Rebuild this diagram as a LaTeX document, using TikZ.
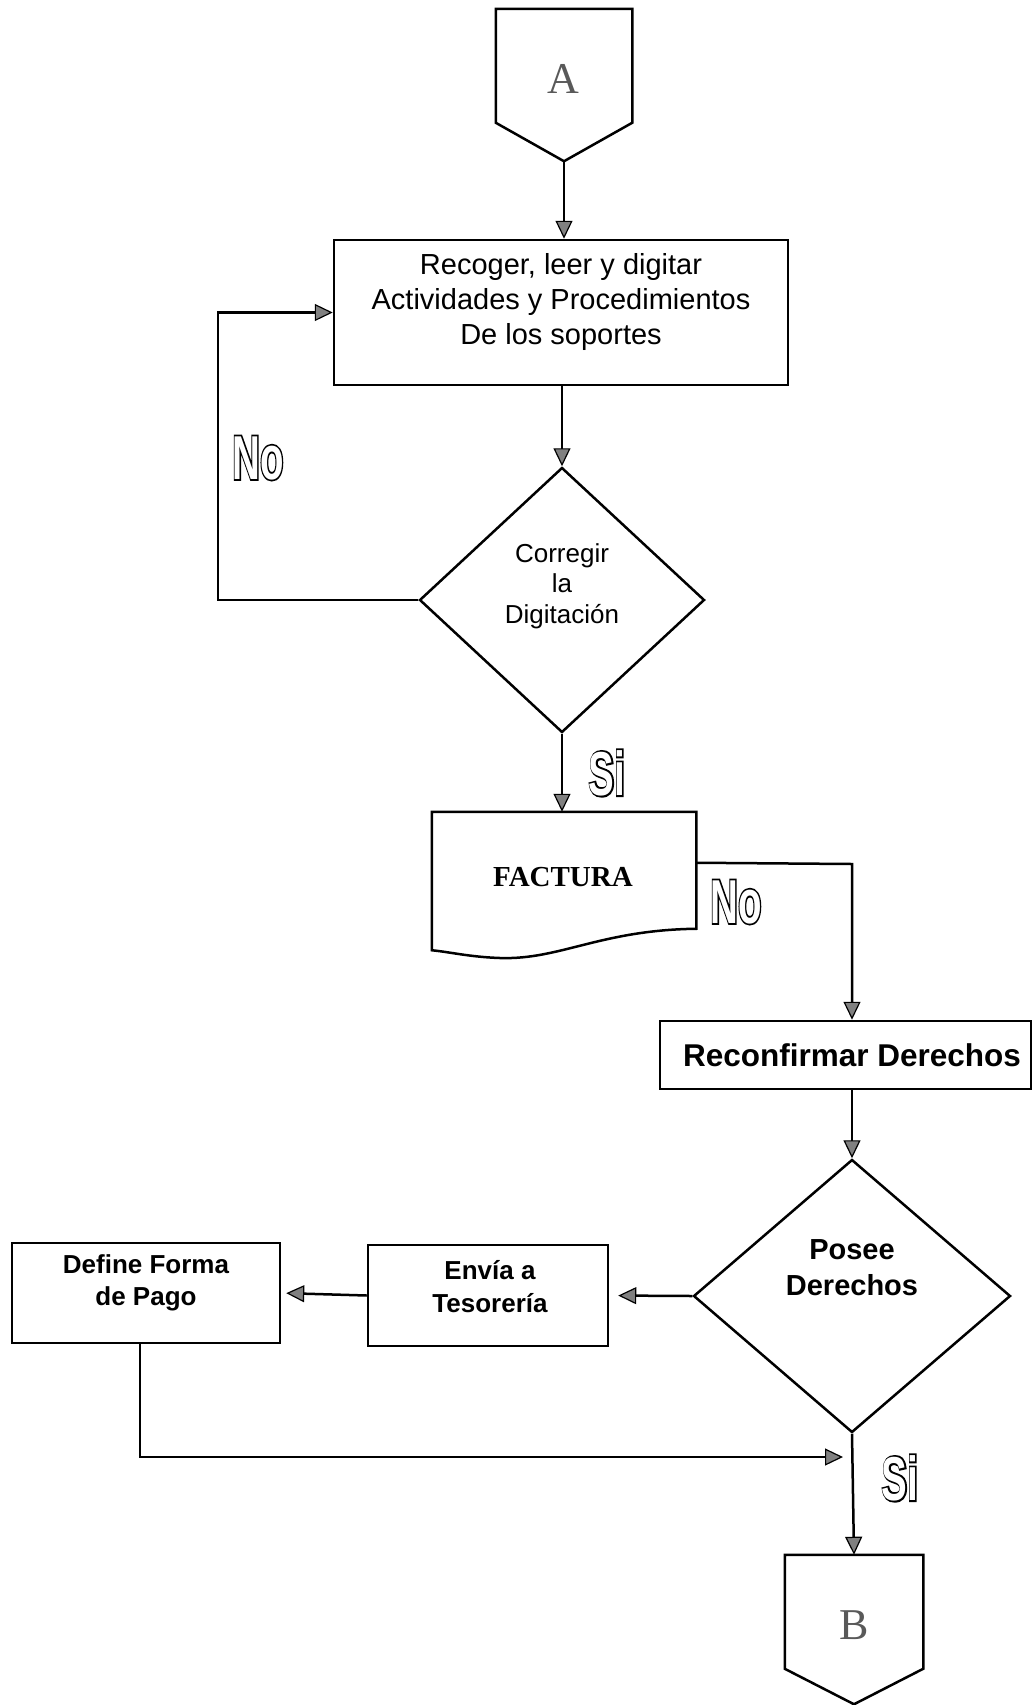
\documentclass[tikz,border=0pt]{standalone}
\usepackage{fontspec}
\usepackage{graphicx}
\setmainfont{Liberation Sans}
\newfontfamily\tnr{Liberation Serif}
\newfontfamily\thickfont{Liberation Sans}[BoldFeatures={FakeBold=6}]
\usetikzlibrary{shapes.geometric,arrows.meta,calc}

% outlined, condensed answer labels: a heavy black layer under a white layer
\newcommand{\hollow}[1]{\scalebox{0.62}[1]{\fontsize{62}{62}\selectfont\bfseries
  \rlap{\color{black}\thickfont\bfseries #1}{\color{white}#1}}}

\begin{document}
\begin{tikzpicture}[x=1pt,y=-1pt,
  line width=2.5pt,
  frame/.style={draw,rectangle,line width=2.5pt,inner sep=0pt},
  hidden/.style={rectangle,inner sep=0pt},
  decision/.style={draw,diamond,line width=2.5pt,inner sep=0pt},
  txt/.style={align=center,inner sep=0pt},
  flow/.style={-{Triangle[length=18pt,width=17pt,fill=black!50,line width=1.2pt]}},
  answer/.style={inner sep=0pt}]
\useasboundingbox (0,0) rectangle (1034,1705);

% off-page connector A
\node[hidden,minimum width=134,minimum height=150] (A) at (564,85) {};
\draw (A.north west) -- (A.north east) -- ($(A.north east)+(0,114)$) -- (A.south) -- ($(A.north west)+(0,114)$) -- cycle;
\node[txt,text=black!65,font=\tnr\fontsize{44}{44}\selectfont] (At) at (563,79) {A};

% capture step
\node[frame,minimum width=454,minimum height=145] (b1) at (561,312.5) {};
\node[txt,font=\fontsize{29}{35}\selectfont] (b1t) at (561,302) {Recoger, leer y digitar\\Actividades y Procedimientos\\De los soportes};

% first decision
\node[decision,minimum width=285,minimum height=265] (d1) at (562,600) {};
\node[txt,font=\fontsize{26}{30.5}\selectfont] (d1t) at (562,586) {Corregir\\la\\Digitación};

% invoice document
\node[hidden,minimum width=262,minimum height=136] (fact) at (564,881) {};
\draw (fact.north west) -- (fact.north east) -- ($(fact.north east)+(0,117)$)
  .. controls (600,930) and (560,960) .. (500,958)
  .. controls (470,957) and (450,952) .. (fact.south west) -- cycle;
\node[txt,font=\tnr\bfseries\fontsize{29}{29}\selectfont] (factt) at (563,877) {FACTURA};

% reconfirm rights
\node[frame,minimum width=371,minimum height=68] (recon) at (845.5,1055) {};
\node[txt,font=\bfseries\fontsize{31.5}{31.5}\selectfont] (recont) at (852,1055) {Reconfirmar Derechos};

% second decision
\node[decision,minimum width=317,minimum height=273] (d2) at (852,1296) {};
\node[txt,font=\bfseries\fontsize{29}{36}\selectfont] (d2t) at (852,1268) {Posee\\Derechos};

% treasury and payment boxes
\node[frame,minimum width=240,minimum height=101] (env) at (488,1295.5) {};
\node[txt,font=\bfseries\fontsize{26}{33}\selectfont] (envt) at (490,1286.5) {Envía a\\Tesorería};
\node[frame,minimum width=268,minimum height=100] (def) at (146,1293) {};
\node[txt,font=\bfseries\fontsize{26}{32}\selectfont] (deft) at (146,1282.5) {Define Forma\\de Pago};

% off-page connector B
\node[hidden,minimum width=136,minimum height=147] (B) at (854,1629.5) {};
\draw (B.north west) -- (B.north east) -- ($(B.north east)+(0,114)$) -- (B.south) -- ($(B.north west)+(0,114)$) -- cycle;
\node[txt,text=black!65,font=\tnr\fontsize{44}{44}\selectfont] (Bt) at (854,1625) {B};

% routing points
\coordinate (lp) at (218,312.5);
\coordinate (fr) at ($(fact.north east)+(0,51)$);
\coordinate (fc) at (852,864);
\coordinate (dl) at (140,1343);
\coordinate (mg) at (843,1457);

% connectors
\draw[flow] (A.south) -- (A.south |- b1.north);
\draw[flow] (b1.south -| d1.north) -- (d1.north);
\draw[flow] (d1.west) -| (lp) -- (b1.west);
\draw[flow] (d1.south) -- (d1.south |- fact.north);
\draw[flow] (fr) -- (fc) -- (fc |- recon.north);
\draw[flow] (d2.north |- recon.south) -- (d2.north);
\draw[flow,shorten >=9pt] (d2.west) -- (env.east);
\draw[flow,shorten >=5pt] (env.west) -- (def.east);
\draw[flow] (dl) |- (mg);
\draw[flow] (d2.south) -- (B.north);

% answer labels
\node[answer] (no1) at (258,458) {\hollow{No}};
\node[answer] (si1) at (607,773) {\hollow{Si}};
\node[answer] (no2) at (736,902) {\hollow{No}};
\node[answer] (si2) at (900,1478) {\hollow{Si}};
\end{tikzpicture}
\end{document}
